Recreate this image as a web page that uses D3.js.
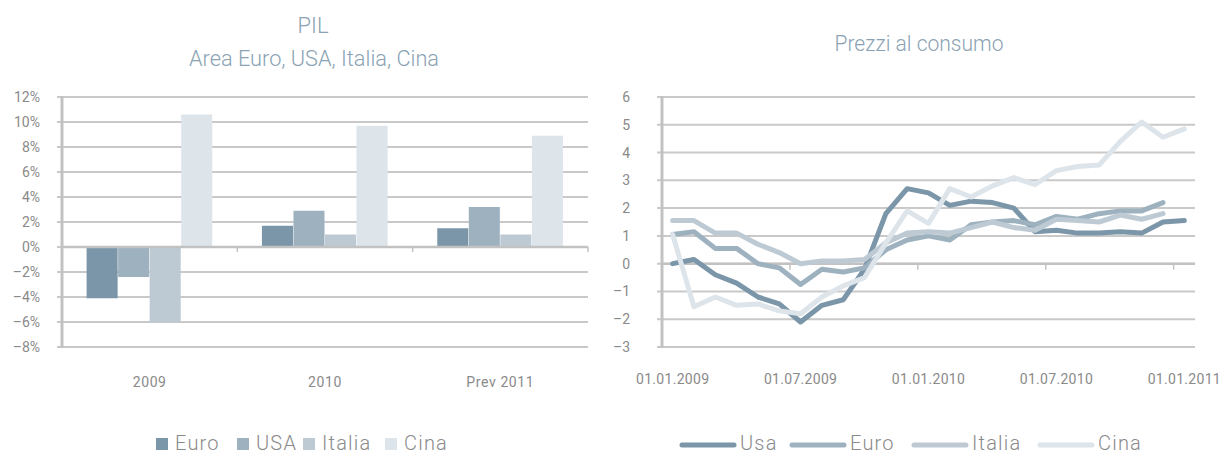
<!DOCTYPE html>
<html><head><meta charset="utf-8">
<script src="https://cdn.jsdelivr.net/npm/d3@7"></script>
<style>
body{margin:0;background:#fff;}
text{font-family:"Roboto","Liberation Sans",sans-serif;}
</style></head>
<body><svg id="c" width="1225" height="455"></svg>
<script>
// ---- Left chart data (PIL) ----
const barCategories = ["2009", "2010", "Prev 2011"];
const barSeries = ["Euro", "USA", "Italia", "Cina"];
const pilEuro   = [-4.1, 1.7, 1.5];
const pilUSA    = [-2.4, 2.9, 3.2];
const pilItalia = [-6.0, 1.0, 1.0];
const pilCina   = [10.6, 9.7, 8.9];
const barTicks  = [12, 10, 8, 6, 4, 2, 0, -2, -4, -6, -8];
const barColors = ["#7a96a8", "#9db1bf", "#bdcad4", "#dde4ea"];

// ---- Right chart data (Prezzi al consumo) ----
const months = ["2009-01","2009-02","2009-03","2009-04","2009-05","2009-06","2009-07","2009-08","2009-09","2009-10","2009-11","2009-12",
                "2010-01","2010-02","2010-03","2010-04","2010-05","2010-06","2010-07","2010-08","2010-09","2010-10","2010-11","2010-12","2011-01"];
const dateLabels = {"2009-01":"01.01.2009","2009-07":"01.07.2009","2010-01":"01.01.2010","2010-07":"01.07.2010","2011-01":"01.01.2011"};
const cpiUsa    = [0.0, 0.15, -0.4, -0.7, -1.2, -1.45, -2.1, -1.5, -1.3, -0.2, 1.8, 2.7, 2.55, 2.1, 2.25, 2.2, 2.0, 1.15, 1.2, 1.1, 1.1, 1.15, 1.1, 1.5, 1.55];
const cpiEuro   = [1.05, 1.15, 0.55, 0.55, 0.0, -0.15, -0.75, -0.2, -0.3, -0.15, 0.5, 0.85, 1.0, 0.85, 1.4, 1.5, 1.55, 1.4, 1.7, 1.6, 1.8, 1.9, 1.9, 2.2];
const cpiItalia = [1.55, 1.55, 1.1, 1.1, 0.7, 0.4, 0.0, 0.1, 0.1, 0.15, 0.75, 1.1, 1.15, 1.1, 1.3, 1.5, 1.3, 1.2, 1.6, 1.55, 1.5, 1.75, 1.6, 1.8];
const cpiCina    = [1.05, -1.55, -1.2, -1.5, -1.45, -1.7, -1.8, -1.2, -0.8, -0.5, 0.75, 1.9, 1.45, 2.7, 2.4, 2.8, 3.1, 2.85, 3.35, 3.5, 3.55, 4.4, 5.1, 4.55, 4.85];
const lineNames = ["Usa", "Euro", "Italia", "Cina"];
const lineTicks = [6, 5, 4, 3, 2, 1, 0, -1, -2, -3];
const lineColors = ["#7a96a8", "#9db1bf", "#bdcad4", "#dde4ea"];

const svg = d3.select("#c");
const gridC = "#c9c9c9", textC = "#8a8a8a", titleC = "#8aa2b3";

// ================= LEFT CHART =================
{
  const x0 = d3.scaleBand().domain(barCategories).range([62, 588]).paddingInner(0).paddingOuter(0);
  const x1 = d3.scaleBand().domain(barSeries).range([0, x0.bandwidth()]).paddingOuter(0.78).paddingInner(0);
  const y = d3.scaleLinear().domain([-8, 12]).range([347, 97]);
  const g = svg.append("g");
  g.selectAll("line.grid").data(barTicks).join("line")
    .attr("x1", 57).attr("x2", 588).attr("y1", d => y(d)).attr("y2", d => y(d))
    .attr("stroke", gridC).attr("stroke-width", 2);
  g.selectAll("text.yl").data(barTicks).join("text")
    .attr("x", 40).attr("y", d => y(d) + 5).attr("text-anchor", "end")
    .attr("font-size", 14).attr("fill", textC).text(d => (d < 0 ? "\u2013" + Math.abs(d) : d) + "%");
  const vals = [pilEuro, pilUSA, pilItalia, pilCina];
  barSeries.forEach((s, si) => {
    g.selectAll("rect.s" + si).data(barCategories).join("rect")
      .attr("x", c => x0(c) + x1(s))
      .attr("width", x1.bandwidth() - 0.5)
      .attr("y", (c, i) => y(Math.max(0, vals[si][i])))
      .attr("height", (c, i) => Math.abs(y(vals[si][i]) - y(0)))
      .attr("fill", barColors[si]);
  });
  g.append("line").attr("x1", 62).attr("x2", 588).attr("y1", y(0)).attr("y2", y(0)).attr("stroke", "#c2c2c2").attr("stroke-width", 2.5);
  g.selectAll("line.ct").data(barCategories.slice(1).concat(["end"])).join("line")
    .attr("x1", (d, i) => 62 + x0.bandwidth() * (i + 1)).attr("x2", (d, i) => 62 + x0.bandwidth() * (i + 1))
    .attr("y1", y(0)).attr("y2", y(0) + 5).attr("stroke", "#c2c2c2").attr("stroke-width", 1.5);
  g.append("line").attr("x1", 62).attr("x2", 62).attr("y1", 96).attr("y2", 348).attr("stroke", "#c2c2c2").attr("stroke-width", 3);
  g.selectAll("text.cl").data(barCategories).join("text")
    .attr("x", c => x0(c) + x0.bandwidth() / 2).attr("y", 387).attr("text-anchor", "middle")
    .attr("font-size", 14).attr("letter-spacing", 0.6).attr("fill", textC).text(d => d);
  g.append("text").attr("x", 313).attr("y", 33).attr("text-anchor", "middle").attr("font-size", 22).attr("font-weight", 300).attr("fill", titleC).text("PIL");
  g.append("text").attr("x", 314).attr("y", 66).attr("text-anchor", "middle").attr("font-size", 22).attr("font-weight", 300).attr("fill", titleC)
    .attr("textLength", 250).attr("lengthAdjust", "spacingAndGlyphs").text("Area Euro, USA, Italia, Cina");
  const legX = [156, 237, 303, 385];
  barSeries.forEach((s, i) => {
    g.append("rect").attr("x", legX[i]).attr("y", 438).attr("width", 12).attr("height", 12).attr("fill", barColors[i]);
    g.append("text").attr("x", legX[i] + 19).attr("y", 450).attr("font-size", 20).attr("font-weight", 300).attr("letter-spacing", 1.2).attr("fill", textC).text(s);
  });
}

// ================= RIGHT CHART =================
{
  const x = d3.scaleBand().domain(months).range([662, 1195]);
  const y = d3.scaleLinear().domain([-3, 6]).range([347, 97]);
  const g = svg.append("g");
  g.selectAll("line.grid").data(lineTicks).join("line")
    .attr("x1", 657).attr("x2", 1195).attr("y1", d => y(d)).attr("y2", d => y(d))
    .attr("stroke", gridC).attr("stroke-width", 2);
  g.selectAll("text.yl").data(lineTicks).join("text")
    .attr("x", 630).attr("y", d => y(d) + 5).attr("text-anchor", "end")
    .attr("font-size", 14).attr("fill", textC).text(d => d < 0 ? "\u2013" + Math.abs(d) : d);
  g.append("line").attr("x1", 662).attr("x2", 1195).attr("y1", y(0)).attr("y2", y(0)).attr("stroke", "#c2c2c2").attr("stroke-width", 2.5);
  const tickMonths = Object.keys(dateLabels);
  g.selectAll("line.xt").data(tickMonths.slice(1)).join("line")
    .attr("x1", d => x(d)).attr("x2", d => x(d)).attr("y1", y(0)).attr("y2", y(0) + 6)
    .attr("stroke", "#c2c2c2").attr("stroke-width", 1.5);
  g.append("line").attr("x1", 662).attr("x2", 662).attr("y1", 96).attr("y2", 348).attr("stroke", "#c2c2c2").attr("stroke-width", 3);
  g.selectAll("text.xl").data(tickMonths).join("text")
    .attr("x", d => x(d) + x.bandwidth() / 2).attr("y", 384).attr("text-anchor", "middle")
    .attr("font-size", 14).attr("letter-spacing", 0.3).attr("fill", textC).text(d => dateLabels[d]);
  const series = [cpiUsa, cpiEuro, cpiItalia, cpiCina];
  const line = d3.line().x((d, i) => x(months[i]) + x.bandwidth() / 2).y(d => y(d));
  series.forEach((s, i) => {
    g.append("path").attr("d", line(s)).attr("fill", "none").attr("stroke", lineColors[i])
      .attr("stroke-width", 5).attr("stroke-linejoin", "round").attr("stroke-linecap", "round");
  });
  g.append("text").attr("x", 919).attr("y", 51).attr("text-anchor", "middle").attr("font-size", 22).attr("font-weight", 300).attr("fill", titleC)
    .attr("textLength", 169).attr("lengthAdjust", "spacingAndGlyphs").text("Prezzi al consumo");
  const legX = [682, 792, 914, 1040];
  lineNames.forEach((s, i) => {
    g.append("line").attr("x1", legX[i]).attr("x2", legX[i] + 52).attr("y1", 445).attr("y2", 445)
      .attr("stroke", lineColors[i]).attr("stroke-width", 5).attr("stroke-linecap", "round");
    g.append("text").attr("x", legX[i] + 58).attr("y", 450).attr("font-size", 20).attr("font-weight", 300).attr("letter-spacing", 1.2).attr("fill", textC).text(s);
  });
}
</script></body></html>
